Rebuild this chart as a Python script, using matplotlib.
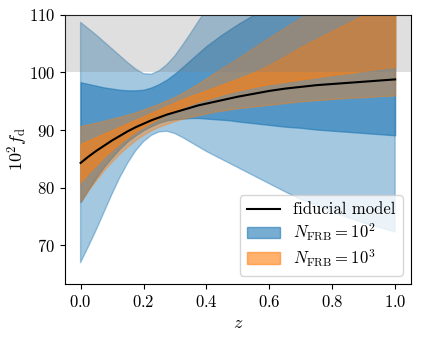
import matplotlib
matplotlib.use('Agg')
import matplotlib.pyplot as plt
import numpy as np

plt.rcParams['font.family'] = 'serif'
plt.rcParams['font.serif'] = ['cmr10']
plt.rcParams['mathtext.fontset'] = 'cm'
plt.rcParams['axes.formatter.use_mathtext'] = True
plt.rcParams['font.size'] = 12

## data (10^2 f_d versus z)

z = [0.0, 0.025, 0.05, 0.075, 0.1, 0.125, 0.15, 0.175, 0.2, 0.225, 0.25,
     0.275, 0.3, 0.325, 0.35, 0.375, 0.4, 0.425, 0.45, 0.475, 0.5,
     0.55, 0.6, 0.65, 0.7, 0.75, 0.8, 0.85, 0.9, 0.95, 1.0]

fiducial = [84.3, 85.4, 86.4, 87.3, 88.2, 89.0, 89.8, 90.5, 91.1, 91.7, 92.2,
            92.7, 93.1, 93.5, 93.9, 94.3, 94.6, 94.9, 95.2, 95.5, 95.8,
            96.3, 96.8, 97.2, 97.5, 97.8, 98.0, 98.2, 98.4, 98.6, 98.8]

# N_FRB = 10^2
lo2_outer = [67.0, 69.8, 72.7, 75.8, 78.9, 81.8, 84.3, 86.4, 88.0, 89.1, 89.7,
             89.8, 89.4, 88.7, 87.9, 87.1, 86.3, 85.6, 84.9, 84.2, 83.5,
             82.1, 80.7, 79.3, 78.0, 76.9, 75.8, 74.8, 73.9, 73.1, 72.3]
hi2_outer = [108.7, 107.6, 106.5, 105.3, 104.1, 102.9, 101.7, 100.6, 99.8, 99.7, 100.3,
             101.4, 102.9, 104.8, 106.8, 108.9, 111.0, 112.8, 114.6, 116.3, 118.0,
             121.5, 125.0, 128.5, 132.0, 135.5, 139.0, 142.5, 146.0, 149.5, 153.0]
lo2_inner = [77.5, 79.7, 81.8, 83.7, 85.3, 86.8, 88.1, 89.1, 90.0, 90.7, 91.3,
             91.7, 91.9, 92.0, 92.1, 92.1, 92.0, 91.9, 91.8, 91.7, 91.5,
             91.2, 90.9, 90.6, 90.4, 90.1, 89.9, 89.7, 89.5, 89.3, 89.1]
hi2_inner = [98.3, 98.0, 97.7, 97.4, 97.2, 97.0, 96.9, 96.9, 97.0, 97.4, 98.0,
             98.8, 99.8, 101.0, 102.2, 103.4, 104.6, 105.6, 106.6, 107.5, 108.4,
             110.0, 111.5, 113.0, 114.4, 115.8, 117.1, 118.4, 119.6, 120.8, 122.0]

# N_FRB = 10^3
lo3_outer = [77.6, 79.6, 81.4, 83.1, 84.6, 86.0, 87.2, 88.3, 89.2, 90.0, 90.6,
             91.1, 91.6, 92.0, 92.3, 92.6, 92.9, 93.2, 93.4, 93.6, 93.8,
             94.1, 94.4, 94.7, 95.0, 95.2, 95.4, 95.6, 95.7, 95.9, 96.0]
hi3_outer = [90.7, 91.0, 91.3, 91.6, 92.0, 92.3, 92.7, 93.1, 93.6, 94.1, 94.6,
             95.2, 95.8, 96.5, 97.3, 98.1, 99.0, 99.9, 100.8, 101.6, 102.5,
             104.3, 106.1, 107.8, 109.5, 111.1, 112.6, 114.1, 115.5, 116.9, 118.2]
lo3_inner = [81.0, 82.6, 84.0, 85.4, 86.6, 87.8, 88.8, 89.8, 90.6, 91.4, 92.1,
             92.8, 93.4, 94.0, 94.5, 95.0, 95.4, 95.8, 96.2, 96.6, 96.9,
             97.5, 98.0, 98.4, 98.8, 99.2, 99.6, 99.9, 100.3, 100.7, 101.0]
hi3_inner = [87.6, 88.2, 88.8, 89.4, 90.0, 90.6, 91.2, 91.8, 92.4, 93.0, 93.6,
             94.2, 94.8, 95.4, 95.9, 96.4, 96.9, 97.4, 97.9, 98.4, 98.9,
             100.0, 101.3, 102.8, 104.4, 105.8, 107.2, 108.6, 110.0, 111.3, 112.6]

fig = plt.figure(figsize=(4.24, 3.38), dpi=100)
ax = fig.add_axes([0.153, 0.160, 0.816, 0.796])

ax.fill_between(z, lo2_outer, hi2_outer, color='C0', alpha=0.4)
ax.fill_between(z, lo2_inner, hi2_inner, color='C0', alpha=0.6, label=r'$N_{\rm FRB} = 10^2$')
ax.fill_between(z, lo3_outer, hi3_outer, color='C1', alpha=0.4)
ax.fill_between(z, lo3_inner, hi3_inner, color='C1', alpha=0.6, label=r'$N_{\rm FRB} = 10^3$')
ax.plot(z, fiducial, color='k', lw=1.5, label='fiducial model', zorder=5)

# unphysical region f_d > 1
ax.axhspan(100, 130, color='gray', alpha=0.25, lw=0, zorder=4)

ax.set_xlim(-0.05, 1.05)
ax.set_ylim(63.3, 110)
ax.set_xticks([0.0, 0.2, 0.4, 0.6, 0.8, 1.0])
ax.set_yticks([70, 80, 90, 100, 110])
ax.set_xlabel(r'$z$', fontsize=13)
ax.set_ylabel(r'$10^2 f_{\rm d}$', fontsize=13)
ax.yaxis.set_label_coords(-0.10, 0.5)

handles, labels = ax.get_legend_handles_labels()
order = [2, 0, 1]
ax.legend([handles[i] for i in order], [labels[i] for i in order], loc='lower right',
          labelspacing=0.25)

fig.savefig('out.png', dpi=100)
